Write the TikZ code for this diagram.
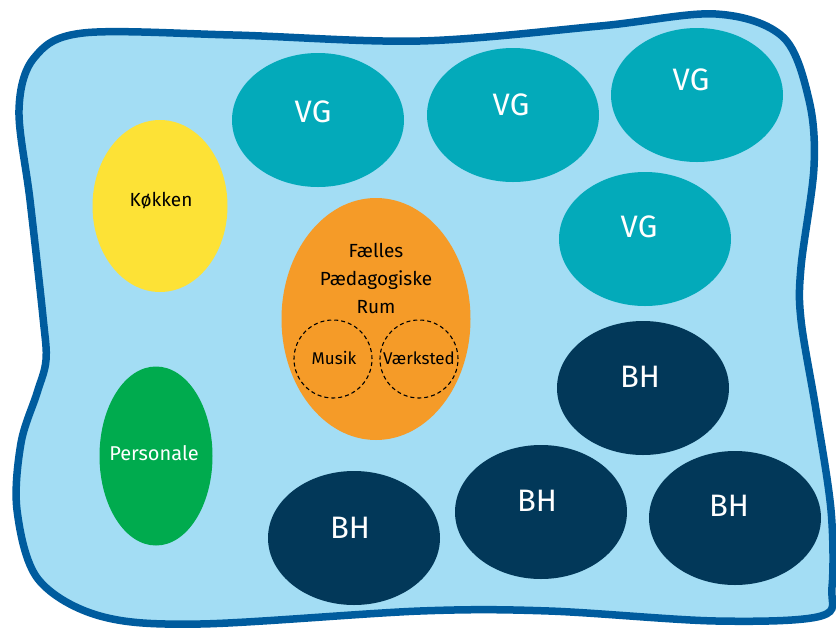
\documentclass[tikz,border=0pt]{standalone}
\usepackage{fontspec}
\setmainfont{Fira Sans}
\usetikzlibrary{shapes.geometric}
\definecolor{bgblue}{HTML}{A3DDF4}
\definecolor{edgeblue}{HTML}{005C9E}
\definecolor{vgteal}{HTML}{03AABA}
\definecolor{bhnavy}{HTML}{023859}
\definecolor{kyellow}{HTML}{FDE236}
\definecolor{pgreen}{HTML}{00AB4E}
\definecolor{forange}{HTML}{F59B28}
\tikzset{
  room/.style={ellipse, inner sep=0pt, draw=none},
  vgroom/.style={room, fill=vgteal, minimum width=172pt, minimum height=134pt},
  bhroom/.style={room, fill=bhnavy, minimum width=172pt, minimum height=134pt},
  bigtxt/.style={inner sep=0pt, text=white, font=\fontsize{31}{31}\selectfont},
  midtxt/.style={inner sep=0pt, font=\fontsize{19}{19}\selectfont},
  smalltxt/.style={inner sep=0pt, font=\fontsize{17}{17}\selectfont},
  subroom/.style={circle, draw=black, line width=1.1pt, dash pattern=on 4pt off 3pt, minimum size=78pt, inner sep=0pt}
}
\begin{document}
\begin{tikzpicture}[x=1pt,y=-1pt]
\useasboundingbox (0,0) rectangle (836,630);
% outer area
\draw[line width=7.5pt, draw=edgeblue, fill=bgblue]
  plot[smooth cycle, tension=0.55] coordinates {
  (83,33) (233,35) (420,41) (600,26) (716,14) (783,37) (809,100) (814,167)
  (801,267) (801,320) (816,410) (831,510) (832,587) (821,616) (716,621)
  (549,611) (420,611) (200,624) (100,616) (38,579) (17,510) (21,443)
  (37,393) (46,360) (43,317) (30,200) (19,110) (34,58)};
% rooms
\node[vgroom] (vg1) at (318,120) {};
\node[vgroom] (vg2) at (513,115) {};
\node[vgroom] (vg3) at (697,95) {};
\node[vgroom] (vg4) at (645,239) {};
\node[bhroom] (bh1) at (643,388) {};
\node[bhroom] (bh2) at (541,512) {};
\node[bhroom] (bh3) at (735,518) {};
\node[bhroom] (bh4) at (354,538) {};
\node[room, fill=kyellow, minimum width=135pt, minimum height=172pt] (kok) at (160,206) {};
\node[room, fill=pgreen, minimum width=113pt, minimum height=179pt] (pers) at (156,456) {};
\node[room, fill=forange, minimum width=189pt, minimum height=242pt] (fpr) at (376,319) {};
\node[subroom] (musik) at (333,359) {};
\node[subroom] (vaerk) at (419,359) {};
% labels
\node[bigtxt] (tvg1) at (313,112) {VG};
\node[bigtxt] (tvg2) at (511,105) {VG};
\node[bigtxt] (tvg3) at (691,80) {VG};
\node[bigtxt] (tvg4) at (639,227) {VG};
\node[bigtxt] (tbh1) at (640,377) {BH};
\node[bigtxt] (tbh2) at (537,501) {BH};
\node[bigtxt] (tbh3) at (729,506) {BH};
\node[bigtxt] (tbh4) at (350,528) {BH};
\node[midtxt] (tkok) at (161,201) {Køkken};
\node[midtxt, text=white, font=\fontsize{20}{20}\selectfont] (tpers) at (154,453) {Personale};
\node[midtxt, align=center, font=\fontsize{19}{28}\selectfont] (tfpr) at (376,278) {Fælles\\Pædagogiske\\Rum};
\node[smalltxt] (tmus) at (334,358) {Musik};
\node[smalltxt] (tvaerk) at (419,358) {Værksted};
\end{tikzpicture}
\end{document}
